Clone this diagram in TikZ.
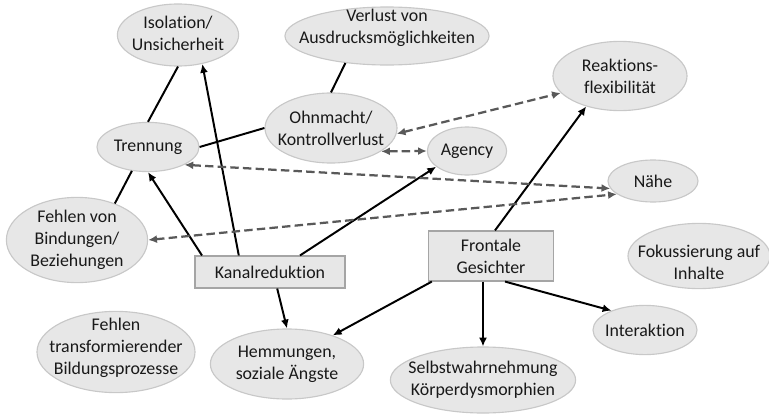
\documentclass[tikz,border=0pt]{standalone}
\usepackage{fontspec}
\setmainfont{Carlito}[Ligatures=NoCommon]
\usetikzlibrary{shapes.geometric,arrows.meta}
\definecolor{ellfill}{RGB}{231,231,231}
\definecolor{ellline}{RGB}{200,200,200}
\definecolor{recline}{RGB}{165,165,165}
\definecolor{dashgray}{RGB}{89,89,89}
\definecolor{textcol}{RGB}{25,25,25}
\begin{document}
\begin{tikzpicture}[x=0.025cm,y=-0.025cm,font=\fontsize{12.7}{15.5}\selectfont,text=textcol]
    \tikzstyle{ell} = [ellipse,draw=ellline,fill=ellfill,line width=0.8pt,inner sep=0pt]
    \tikzstyle{rec} = [rectangle,draw=recline,fill=ellfill,line width=0.8pt,align=center,inner sep=0pt]
    \tikzstyle{linie} = [line width=1.4pt]
    \tikzstyle{pfeil} = [linie,-{Latex[length=2.2mm,width=2mm]}]
    \tikzstyle{gestr} = [{Latex[length=2.2mm,width=2mm]}-{Latex[length=2.2mm,width=2mm]},line width=1.6pt,dash pattern=on 6pt off 3pt,draw=dashgray]
    \useasboundingbox (0,0) rectangle (769,414);
    \node [ell, minimum width=3.03cm, minimum height=1.55cm, label={[align=center,yshift=0.05cm]center:Isolation/\\Unsicherheit}] (isolation) at (178,35) {};
    \node [ell, minimum width=5.1cm, minimum height=1.45cm, label={[align=center,yshift=0.2cm]center:Verlust von\\Ausdrucksmöglichkeiten}] (verlust) at (387,36) {};
    \node [ell, minimum width=3.3cm, minimum height=1.75cm, label={[align=center]center:Ohnmacht/\\Kontrollverlust}] (ohnmacht) at (331,128) {};
    \node [ell, minimum width=2.55cm, minimum height=1.23cm, label={center:Trennung}] (trennung) at (148,147) {};
    \node [ell, minimum width=3.35cm, minimum height=1.73cm, label={[align=center]center:Reaktions-\\flexibilität}] (reaktion) at (620,76) {};
    \node [ell, minimum width=1.98cm, minimum height=1.2cm, label={center:Agency}] (agency) at (467,151) {};
    \node [ell, minimum width=2.25cm, minimum height=1.05cm, label={center:Nähe}] (naehe) at (653,181) {};
    \node [ell, minimum width=3.53cm, minimum height=2.13cm, label={[align=center]center:Fehlen von\\Bindungen/\\Beziehungen}] (bindung) at (77,240) {};
    \node [ell, minimum width=3.95cm, minimum height=2.03cm, label={[align=center,yshift=0.1cm]center:Fehlen\\transformierender\\Bildungsprozesse}] (bildung) at (116,352) {};
    \node [ell, minimum width=3.83cm, minimum height=1.75cm, label={[align=center]center:Hemmungen,\\soziale Ängste}] (hemmung) at (287,364) {};
    \node [ell, minimum width=3.55cm, minimum height=1.63cm, label={[align=center,yshift=-0.15cm]center:Fokussierung auf\\Inhalte}] (fokus) at (699,256) {};
    \node [ell, minimum width=2.6cm, minimum height=1.23cm, label={center:Interaktion}] (interaktion) at (645,330) {};
    \node [ell, minimum width=4.63cm, minimum height=1.65cm, label={[align=center]center:Selbstwahrnehmung\\Körperdysmorphien}] (selbst) at (483,380) {};
    \node [rec, minimum width=3.75cm, minimum height=0.8cm] (kanal) at (270,272) {Kanalreduktion};
    \node [rec, minimum width=3.13cm, minimum height=1.25cm] (frontal) at (491,256) {Frontale\\Gesichter};
    \draw [linie] (trennung.north) -- (isolation.south);
    \draw [linie] (trennung.east) -- (ohnmacht.west);
    \draw [linie] (ohnmacht.north) -- (verlust.213);
    \draw [linie] (bindung.44) -- (trennung.236);
    \draw [pfeil] ([xshift=-1.7cm]kanal.north) -- (trennung.south);
    \draw [pfeil] ([xshift=-0.78cm]kanal.north) -- (isolation.-50);
    \draw [pfeil] ([xshift=0.75cm]kanal.north) -- (agency.207);
    \draw [pfeil] ([xshift=0.18cm]kanal.south) -- (hemmung.north);
    \draw [pfeil] ([xshift=0.1cm]frontal.north) -- (reaktion.222);
    \draw [pfeil] ([xshift=0.1cm]frontal.south west) -- (hemmung.32);
    \draw [pfeil] ([xshift=-0.2cm]frontal.south) -- ([xshift=-0.2cm]frontal.south |- selbst.north);
    \draw [pfeil] ([xshift=0.35cm]frontal.south) -- (interaktion.150);
    \draw [gestr] (ohnmacht.-5) -- (reaktion.196);
    \draw [gestr] (ohnmacht.-25) -- (agency.west);
    \draw [gestr] (trennung.-26) -- (naehe.190);
    \draw [gestr] (bindung.east) -- (naehe.200);
\end{tikzpicture}
\end{document}
